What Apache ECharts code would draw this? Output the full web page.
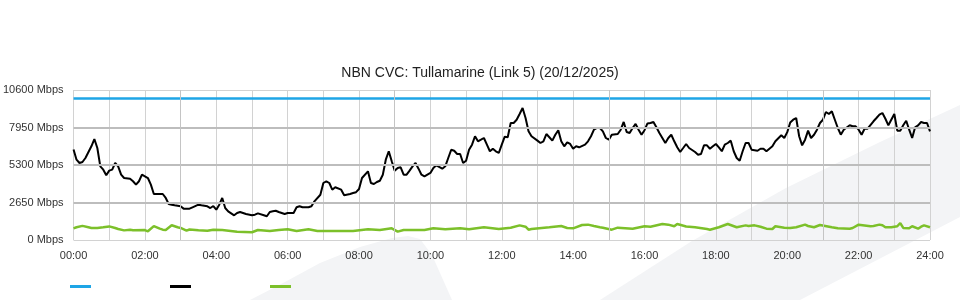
<!DOCTYPE html>
<html>
<head>
<meta charset="utf-8">
<script src="https://cdn.jsdelivr.net/npm/echarts@6/dist/echarts.min.js"></script>
<style>
html,body{margin:0;padding:0;background:#fff;}
#chart{width:960px;height:300px;}
</style>
</head>
<body>
<div id="chart"></div>
<script>
// ---- data ----
const chartTitle = 'NBN CVC: Tullamarine (Link 5) (20/12/2025)';
const yAxisMin = 0, yAxisMax = 10600, yAxisStep = 2650;
const xAxisMinutesMax = 1440, xTickMinutes = 60, xLabelEveryMinutes = 120;
const strongGridMinutes = [180, 540, 900, 1260];
const strongGridMbps = [2650, 5300, 7950];

const capacityMinutes = [0, 1440];
const capacityMbps = [10000, 10000];

const totalMinutes = [0,5,10,15,20,30,35,40,45,50,55,60,65,70,75,80,85,95,100,105,110,115,120,125,130,135,145,150,155,160,165,170,180,185,195,200,210,215,225,230,235,240,245,250,255,260,270,275,280,290,300,305,310,320,325,330,335,340,345,355,360,370,375,380,385,395,400,405,415,420,425,430,435,440,450,455,465,470,475,480,485,495,500,505,510,515,520,525,530,535,540,545,550,555,560,565,570,575,580,585,590,600,605,610,620,625,630,635,640,645,650,655,660,665,670,675,680,685,690,695,700,705,710,715,720,725,730,735,740,745,750,755,760,765,770,780,785,790,795,800,805,810,815,820,825,830,835,840,845,850,860,865,870,875,880,885,890,895,900,905,915,920,925,930,935,940,945,950,955,960,965,970,975,980,985,990,995,1000,1005,1010,1015,1020,1025,1030,1035,1045,1050,1055,1060,1065,1070,1075,1080,1085,1090,1095,1100,1105,1110,1115,1120,1125,1130,1135,1140,1150,1155,1160,1165,1170,1175,1180,1190,1195,1200,1205,1210,1215,1220,1225,1230,1235,1240,1245,1250,1255,1260,1265,1270,1275,1280,1285,1290,1295,1305,1310,1315,1320,1325,1330,1335,1345,1350,1355,1360,1365,1370,1380,1385,1390,1395,1400,1405,1410,1415,1420,1425,1430,1435,1440];
const totalMbps = [6400,5676,5440,5512,5795,6620,7137,6500,5207,4970,4570,4900,4970,5440,5207,4615,4380,4330,4150,3910,4150,4615,4500,4380,3910,3250,3250,3250,2970,2545,2495,2450,2380,2215,2215,2310,2495,2450,2380,2260,2400,2140,2495,2970,2260,2025,1745,1908,1980,1837,1745,1790,1885,1745,1675,1980,2025,2070,1980,1837,1908,1908,2310,2380,2310,2310,2380,2735,3200,4028,4150,4028,3555,3725,3555,3160,3250,3320,3380,3600,4380,4850,4028,3957,4100,4190,4615,5675,6270,5560,4900,5090,5135,4615,4615,4900,5207,5440,5040,4615,4500,4735,5090,5280,5040,5207,5795,6380,6310,6077,6077,5440,5605,6380,6735,7330,6975,7090,7208,6735,6270,6450,6270,6150,6735,7300,7260,8270,8270,8500,8905,9330,8620,7680,7330,7020,6855,6975,7490,7260,7020,7440,7750,6975,6620,6905,6785,6450,6620,6550,6735,6975,7330,7795,7915,7915,7680,7208,7090,7440,7490,7795,8340,7632,7560,7915,8200,7795,7440,7760,8235,8270,8340,7965,7560,7208,6855,7208,7440,6975,6550,6220,6500,6785,6500,6220,6030,6077,6690,6690,6450,6620,6785,6550,6270,6735,6855,7020,6270,5795,5605,6270,6855,6855,6380,6310,6450,6450,6270,6450,6620,6975,7400,7208,7620,8300,8500,8620,7330,6690,7090,7725,7208,7440,7795,8270,8500,9045,8905,9095,8500,7915,7440,7795,8105,8035,8035,7795,7440,7865,7865,8390,8620,8855,8975,8570,8105,8905,7725,7725,8105,8430,7795,7208,7965,8105,8340,8270,8270,7680];

const otherMinutes = [0,5,15,25,30,40,50,60,70,75,85,95,100,120,125,135,145,150,155,165,175,180,190,195,210,225,235,250,275,300,310,330,345,360,375,395,410,470,495,515,535,545,555,590,605,625,650,665,690,715,735,750,760,765,770,800,820,830,840,855,865,875,885,890,905,915,940,960,970,990,1000,1010,1015,1030,1045,1065,1070,1085,1100,1115,1130,1135,1145,1155,1165,1175,1180,1195,1205,1215,1230,1235,1245,1255,1275,1285,1305,1310,1320,1340,1345,1355,1360,1365,1375,1385,1390,1395,1405,1410,1420,1425,1430,1440];
const otherMbps = [820,900,1000,900,850,850,900,960,850,780,680,730,685,700,615,980,800,730,707,1040,900,850,660,740,685,660,730,707,590,545,707,636,707,755,636,755,636,636,755,707,825,590,707,707,825,755,825,755,900,780,870,1035,940,730,780,900,990,850,825,1060,1085,990,900,870,730,870,800,970,940,1130,1085,970,1130,955,900,780,730,900,1130,900,1035,990,1035,940,800,780,970,870,850,900,1085,990,900,1060,900,825,800,850,1085,970,990,1085,1040,900,900,970,1200,850,825,970,800,940,1035,900];

const seriesNames = ['Capacity', 'Total', 'Other'];
const seriesColors = ['#1ea5e6', '#000000', '#7cc02a'];

const pair = (xs, ys) => xs.map((x, i) => [x, ys[i]]);
const pad = n => String(n).padStart(2, '0');
const font = "'Liberation Sans', Arial, sans-serif";

const chart = echarts.init(document.getElementById('chart'), null, {renderer: 'canvas'});
chart.setOption({
  animation: false,
  backgroundColor: '#ffffff',
  title: {
    text: chartTitle, left: 'center', top: 61,
    textStyle: {fontFamily: font, fontSize: 14, fontWeight: 'normal', color: '#222'}
  },
  graphic: [
    {type: 'polygon', z: -10, silent: true,
     shape: {points: [[250,300],[285,282],[320,263],[360,247],[392,238],[408,236],[420,239],[432,255],[452,300]]},
     style: {fill: '#f3f4f6'}},
    {type: 'polygon', z: -10, silent: true,
     shape: {points: [[600,300],[692,241],[786,188],[880,142],[960,105],[960,217],[800,300]]},
     style: {fill: '#f3f4f6'}}
  ],
  legend: {
    left: 65, top: 280, itemWidth: 21, itemHeight: 3, itemGap: 79, icon: 'rect',
    data: seriesNames, formatter: () => '',
    textStyle: {fontSize: 1}
  },
  grid: {left: 70, right: 30, top: 90, bottom: 60, containLabel: false},
  xAxis: {
    type: 'value', min: 0, max: xAxisMinutesMax, interval: xTickMinutes,
    axisLine: {show: false}, axisTick: {show: false},
    splitLine: {show: true, lineStyle: {color: '#d2d2d2', width: 1}},
    axisLabel: {
      margin: 10, fontFamily: font, fontSize: 11, color: '#333',
      formatter: v => (v % xLabelEveryMinutes === 0 ? pad(v / 60) + ':00' : '')
    }
  },
  yAxis: {
    type: 'value', min: yAxisMin, max: yAxisMax, interval: yAxisStep,
    axisLine: {show: false}, axisTick: {show: false},
    splitLine: {show: true, lineStyle: {color: '#d2d2d2', width: 1}},
    axisLabel: {margin: 10, fontFamily: font, fontSize: 11, color: '#333',
      formatter: v => v + ' Mbps'}
  },
  series: [
    {
      name: '__hgrid', type: 'line', data: [], z: 1, silent: true,
      markLine: {
        silent: true, symbol: 'none', label: {show: false}, animation: false,
        lineStyle: {color: '#bdbdbd', width: 2, type: 'solid'},
        data: strongGridMbps.map(v => ({yAxis: v}))
      }
    },
    {
      name: '__vgrid', type: 'line', data: [], z: 1, silent: true,
      markLine: {
        silent: true, symbol: 'none', label: {show: false}, animation: false,
        lineStyle: {color: '#c4c4c4', width: 1, type: 'solid'},
        data: strongGridMinutes.map(m => ({xAxis: m}))
      }
    },
    {
      name: seriesNames[0], type: 'line', data: pair(capacityMinutes, capacityMbps),
      showSymbol: false, color: seriesColors[0], lineStyle: {width: 2.5}, z: 3
    },
    {
      name: seriesNames[1], type: 'line', data: pair(totalMinutes, totalMbps),
      showSymbol: false, color: seriesColors[1], lineStyle: {width: 2}, z: 4
    },
    {
      name: seriesNames[2], type: 'line', data: pair(otherMinutes, otherMbps),
      showSymbol: false, color: seriesColors[2], lineStyle: {width: 2.5}, z: 3
    }
  ]
});
</script>
</body>
</html>
